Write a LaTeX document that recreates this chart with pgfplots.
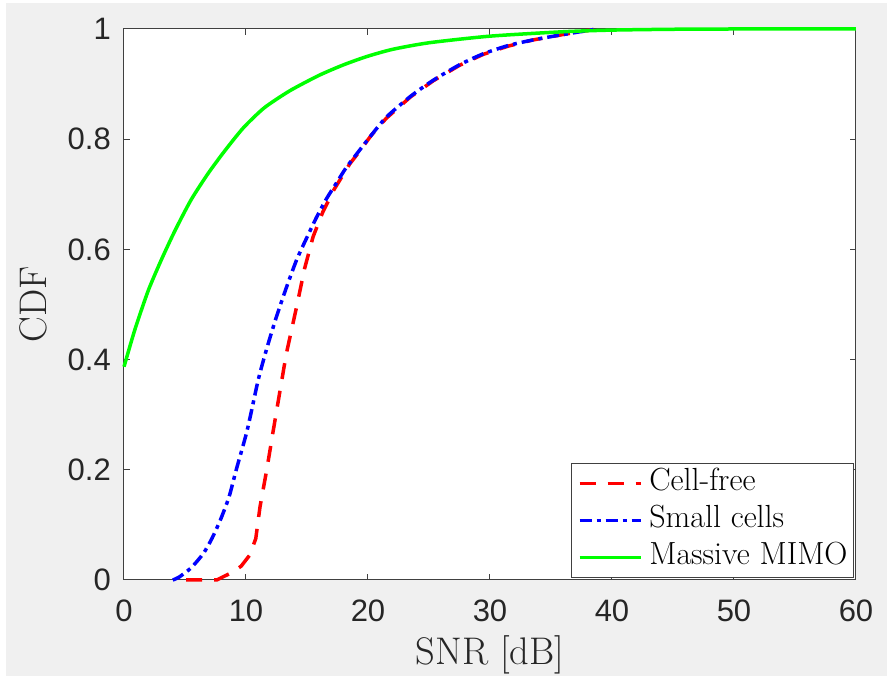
\documentclass[border=0pt]{standalone}
\usepackage{pgfplots}
\pgfplotsset{compat=1.18}
\usepackage{fontspec}
\newfontfamily\arial{Liberation Sans}
\definecolor{bg}{HTML}{F0F0F0}
\definecolor{axc}{HTML}{404040}
\definecolor{mred}{HTML}{FF0000}
\definecolor{mblue}{HTML}{0000FF}
\definecolor{mgreen}{HTML}{00FF00}
\begin{document}
\begin{tikzpicture}
\useasboundingbox (0,0) rectangle (887pt,676pt);
\fill[white] (0,0) rectangle (887pt,676pt);
\fill[bg] (6pt,0) rectangle (887pt,673pt);
\begin{axis}[
  at={(124pt,96pt)}, anchor=south west,
  scale only axis, width=732pt, height=551pt,
  xmin=0, xmax=60, ymin=0, ymax=1,
  xtick={0,10,20,30,40,50,60},
  ytick={0,0.2,0.4,0.6,0.8,1},
  yticklabels={0,0.2,0.4,0.6,0.8,1},
  axis background/.style={fill=white},
  axis line style={axc, line width=1pt},
  tick style={axc, line width=1pt},
  major tick length=6pt,
  tick align=inside,
  clip=false,
  /pgf/number format/assume math mode=true,
  ticklabel style={font=\arial\fontsize{31}{36}\selectfont, text=black!85, inner sep=0pt},
  xticklabel style={anchor=north, yshift=-20pt},
  yticklabel style={anchor=east, xshift=-13pt},
  xlabel={SNR [dB]},
  ylabel={CDF},
  label style={font=\fontsize{38.5}{44}\selectfont, text=black!85},
  xlabel style={at={(axis description cs:0.5,-0.1525)}, anchor=base, inner sep=0pt},
  ylabel style={at={(axis description cs:-0.1052,0.5)}, anchor=base, inner sep=0pt},
  legend image code/.code={\draw[#1] (0pt,0pt) -- (61pt,0pt); \path (68pt,0pt);},
  legend style={at={(1,0)}, anchor=south east, xshift=-2pt, yshift=2pt,
    draw=axc, line width=1pt, fill=white,
    inner xsep=6pt, inner ysep=5pt, row sep=7pt,
    font=\fontsize{32}{36}\selectfont,
    nodes={inner sep=0pt, text height=22pt, text depth=8pt, anchor=west}},
  legend cell align=left,
]
\addplot[mred, line width=3.5pt, dash pattern=on 16pt off 12pt] coordinates {
(5.1,0) (7.6,0) (8.7,0.012) (9.6,0.025) (10.3,0.045) (10.8,0.075) (11.15,0.133)
(11.7,0.2) (12.24,0.272) (12.8,0.345) (13.3,0.41) (14.15,0.496) (14.8,0.565)
(15.5,0.623) (16.3,0.668) (17.2,0.708) (18.5,0.755) (19.1,0.772) (20.3,0.808)
(21.5,0.838) (23.5,0.877) (25.35,0.906) (27.5,0.934) (29.45,0.954) (31.5,0.969)
(33.5,0.980) (36,0.99) (38.5,0.999)
};
\addlegendentry{Cell-free}
\addplot[mblue, line width=3.5pt, smooth, tension=0.4, dash pattern=on 12pt off 5pt on 4pt off 5pt] coordinates {
(4.0,0) (4.5,0.005) (5.5,0.022) (6.5,0.048) (7.2,0.075) (7.9,0.109) (8.6,0.15)
(9.2,0.2) (10.1,0.272) (11.0,0.363) (11.7,0.42) (12.5,0.478) (13.3,0.53)
(14.15,0.581) (15,0.622) (15.8,0.659) (16.6,0.692) (17.4,0.720) (18.2,0.748)
(19.1,0.774) (20.3,0.808) (21.5,0.840) (23.5,0.878) (25.35,0.907) (27.5,0.935)
(29.45,0.955) (31.5,0.970) (33.5,0.980) (36,0.99) (38.8,1.0)
};
\addlegendentry{Small cells}
\addplot[mgreen, line width=3.5pt, smooth, tension=0.4] coordinates {
(0,0.387) (0.9,0.455) (2,0.526) (3.1,0.583) (4.2,0.635) (5.5,0.69) (6.9,0.738)
(8.3,0.78) (9.8,0.821) (11.5,0.857) (13.6,0.888) (16,0.916) (18,0.935)
(19.9,0.950) (22,0.963) (25,0.975) (30,0.987) (36,0.995) (40,0.998)
(45,0.9995) (50,1) (60,1)
};
\addlegendentry{Massive MIMO}
\end{axis}
\end{tikzpicture}
\end{document}
